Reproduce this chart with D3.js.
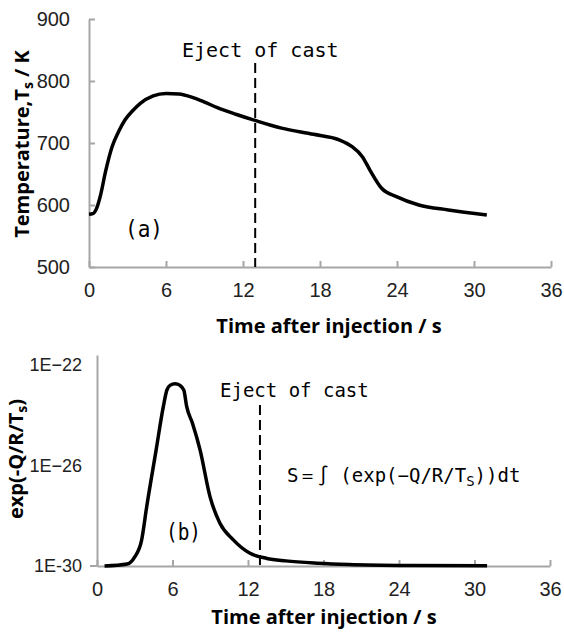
<!DOCTYPE html>
<html>
<head>
<meta charset="utf-8">
<script src="https://cdn.jsdelivr.net/npm/d3@7"></script>
<style>
  body { margin: 0; background: #fff; }
  svg { display: block; }
</style>
</head>
<body>
<script>
// ---- data ----
// (a) surface temperature
const tempTime  = [0, 0.3, 0.6, 0.9, 1.3, 1.8, 2.3, 2.8, 3.4, 4, 5, 6, 7, 8, 9, 10, 11.5, 13, 15, 17.5, 19.5, 20.5, 21.3, 21.9, 22.8, 24, 25.7, 28, 31];
const tempValue = [585, 586, 595, 616, 655, 694, 718, 737, 752, 764, 776, 780, 779, 774, 766, 757, 746, 736, 724, 714, 705, 694, 678, 656, 627, 613, 600, 592, 584];
// (b) exp(-Q/R/Ts)
const expTime  = [0.6, 2.4, 3.0, 3.55, 3.95, 4.7, 5.27, 5.55, 5.8, 6.2, 6.6, 6.9, 7.13, 7.58, 8.19, 8.98, 9.77, 10.83, 12.16, 13.5, 15, 17.5, 20, 25, 31];
const expValue = [1.0e-30, 1.2e-30, 2.3e-30, 1.1e-29, 2.3e-28, 4.2e-26, 2.2e-24, 1.0e-23, 1.55e-23, 1.8e-23, 1.55e-23, 1.0e-23, 2.2e-24, 4.9e-25, 4.2e-26, 5.8e-28, 5.0e-29, 1.1e-29, 3.2e-30, 2.0e-30, 1.6e-30, 1.3e-30, 1.15e-30, 1.05e-30, 1.02e-30];

const timeTicks = [0, 6, 12, 18, 24, 30, 36];
const tempTicks = [500, 600, 700, 800, 900];
const expTicks = [1e-30, 1e-26, 1e-22];
const expTickLabels = ["1E-30", "1E\u221226", "1E\u221222"];
const ejectTime = 12.95;

// ---- config ----
const width = 564, height = 632;
const axisColor = "#a6a6a6";
const tickFont = "'Liberation Sans', Arial, sans-serif";
const titleFont = "'Open Sans', sans-serif";
const monoFont = "'DejaVu Sans Mono', monospace";

const svg = d3.select("body").append("svg")
  .attr("width", width)
  .attr("height", height);

svg.append("rect").attr("width", width).attr("height", height).attr("fill", "#fff");

function styleAxis(g, size) {
  g.selectAll("path, line").attr("stroke", axisColor).attr("stroke-width", 2);
  g.selectAll("text")
    .attr("fill", "#222")
    .style("font-family", tickFont)
    .style("font-size", size + "px");
}

function title(x, y, rotate, main, sub, tail) {
  const t = svg.append("text")
    .attr("transform", `translate(${x},${y})` + (rotate ? " rotate(-90)" : ""))
    .attr("text-anchor", "middle")
    .style("font-family", titleFont).style("font-weight", "bold").style("font-size", "20px");
  t.append("tspan").text(main);
  if (sub) {
    t.append("tspan").attr("dy", 4).style("font-size", "14px").text(sub);
    t.append("tspan").attr("dy", -4).text(tail);
  }
  return t;
}

// ================= panel (a) =================
const xA = d3.scaleLinear().domain([0, 36]).range([89, 551]);
const yA = d3.scaleLinear().domain([500, 900]).range([267, 19]);

svg.append("g")
  .attr("transform", `translate(0,${yA(500)})`)
  .call(d3.axisBottom(xA).tickValues(timeTicks).tickSizeInner(-6).tickSizeOuter(0).tickPadding(16))
  .call(g => styleAxis(g, 20));

svg.append("g")
  .attr("transform", `translate(${xA(0)},0)`)
  .call(d3.axisLeft(yA).tickValues(tempTicks).tickSizeInner(-6).tickSizeOuter(0).tickPadding(19))
  .call(g => styleAxis(g, 20));

const lineA = d3.line()
  .x((d, i) => xA(tempTime[i]))
  .y(d => yA(d))
  .curve(d3.curveMonotoneX);

svg.append("path")
  .attr("d", lineA(tempValue))
  .attr("fill", "none")
  .attr("stroke", "#000")
  .attr("stroke-width", 3.5)
  .attr("stroke-linejoin", "round");

svg.append("line")
  .attr("x1", xA(ejectTime)).attr("x2", xA(ejectTime))
  .attr("y1", 63).attr("y2", yA(500))
  .attr("stroke", "#000").attr("stroke-width", 2)
  .attr("stroke-dasharray", "10,5");

svg.append("text")
  .attr("x", 182).attr("y", 57)
  .style("font-family", monoFont).style("font-size", "20px")
  .text("Eject of cast");

svg.append("text")
  .attr("x", 125).attr("y", 237)
  .attr("textLength", 38).attr("lengthAdjust", "spacingAndGlyphs")
  .style("font-family", monoFont).style("font-size", "23px")
  .text("(a)");

title(329, 333, false, "Time after injection / s");
title(29, 144, true, "Temperature,T", "s", " / K");

// ================= panel (b) =================
const xB = d3.scaleLinear().domain([0, 36]).range([97, 550]);
const yB = d3.scaleLog().domain([1e-30, Math.pow(10, -21.6)]).range([566, 355]);

svg.append("line")
  .attr("x1", xB(0) - 7).attr("x2", xB(0))
  .attr("y1", yB(1e-30)).attr("y2", yB(1e-30))
  .attr("stroke", axisColor).attr("stroke-width", 2);

svg.append("g")
  .attr("transform", `translate(0,${yB(1e-30)})`)
  .call(d3.axisBottom(xB).tickValues(timeTicks).tickSizeInner(-6).tickSizeOuter(0).tickPadding(16))
  .call(g => styleAxis(g, 20));

svg.append("g")
  .attr("transform", `translate(${xB(0)},0)`)
  .call(d3.axisLeft(yB).tickValues(expTicks).tickFormat((d, i) => expTickLabels[i]).tickSize(0).tickPadding(15))
  .call(g => styleAxis(g, 18));

const lineB = d3.line()
  .x((d, i) => xB(expTime[i]))
  .y(d => yB(d))
  .curve(d3.curveMonotoneX);

svg.append("path")
  .attr("d", lineB(expValue))
  .attr("fill", "none")
  .attr("stroke", "#000")
  .attr("stroke-width", 3.5)
  .attr("stroke-linejoin", "round");

svg.append("line")
  .attr("x1", xB(ejectTime)).attr("x2", xB(ejectTime))
  .attr("y1", 405).attr("y2", yB(1e-30))
  .attr("stroke", "#000").attr("stroke-width", 2)
  .attr("stroke-dasharray", "10,5");

svg.append("text")
  .attr("x", 220).attr("y", 397)
  .style("font-family", monoFont).style("font-size", "19px")
  .text("Eject of cast");

svg.append("text")
  .attr("x", 166).attr("y", 540)
  .attr("textLength", 35).attr("lengthAdjust", "spacingAndGlyphs")
  .style("font-family", monoFont).style("font-size", "23px")
  .text("(b)");

const formula = svg.append("text")
  .attr("x", 287).attr("y", 482)
  .style("font-family", monoFont).style("font-size", "19px");
formula.append("tspan").text("S\uFF1D\u222B (exp(\u2212Q/R/T");
formula.append("tspan").attr("dy", 4).style("font-size", "14px").text("S");
formula.append("tspan").attr("dy", -4).text("))dt");

title(324, 624, false, "Time after injection / s");
title(23, 459, true, "exp(-Q/R/T", "s", ")");
</script>
</body>
</html>
